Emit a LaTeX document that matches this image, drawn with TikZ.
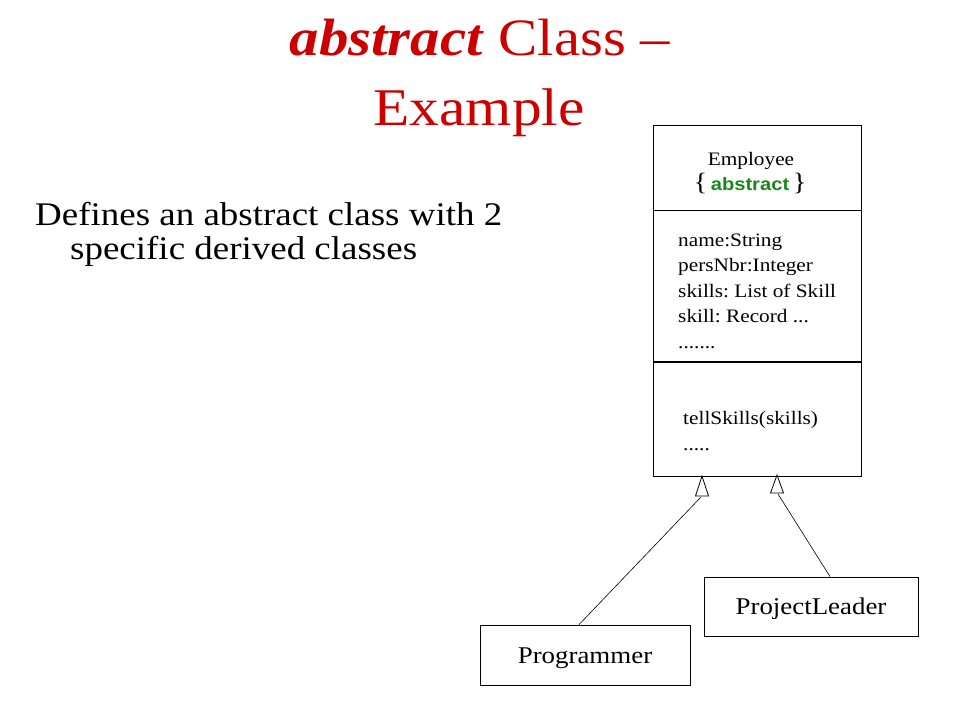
\documentclass[tikz,border=0pt]{standalone}
\usepackage{fontspec}
\setmainfont{Liberation Serif}
\newfontfamily\arialfont{Liberation Sans}
\usetikzlibrary{positioning}
\definecolor{titlered}{RGB}{204,0,0}
\definecolor{stereogreen}{RGB}{24,136,24}
\frenchspacing

\begin{document}
\begin{tikzpicture}[x=1pt,y=-1pt]
                \useasboundingbox (0,0) rectangle (960,720);
                % title and text
                \begin{scope}[every node/.style={inner sep=0pt,anchor=base,xscale=1.12}]
                    \node[text=titlered,font=\fontsize{52.5}{60}\selectfont] (T1) at (480,55) {\textbf{\textit{abstract}} Class --};
                    \node[text=titlered,font=\fontsize{53}{60}\selectfont] (T2) at (479,125) {Example};
                    \node[anchor=base west,font=\fontsize{33}{38}\selectfont] (L1) at (35,225) {Defines an abstract class with 2};
                    \node[anchor=base west,font=\fontsize{33}{38}\selectfont] (L2) at (70,259) {specific derived classes};
                \end{scope}
                % class boxes
                \begin{scope}[every node/.style={rectangle,draw=black,line width=0.8pt,inner sep=0pt,minimum width=208pt}]
                    \node[minimum height=85pt] (EH) at (757,167.5) {};
                    \node[minimum height=151pt,below=0pt of EH] (EA) {};
                    \node[minimum height=114pt,below=0pt of EA] (EO) {};
                    \node[minimum width=210pt,minimum height=60pt] (P) at (585,655) {};
                    \node[minimum width=214pt,minimum height=59pt] (PL) at (811,606.5) {};
                \end{scope}
                % texts in boxes
                \begin{scope}[every node/.style={inner sep=0pt,anchor=base west,xscale=1.12,font=\fontsize{19}{25.5}\selectfont}]
                    \node[anchor=base] (EN) at (751,165) {Employee};
                    \node[anchor=base] (ES) at (750,190) {{\fontsize{25}{25}\selectfont\{}\,{\arialfont\bfseries\fontsize{18}{20}\selectfont\color{stereogreen}abstract}\,{\fontsize{25}{25}\selectfont\}}};
                    \node (A1) at (678,246) {name:String};
                    \node (A2) at (678,271.5) {persNbr:Integer};
                    \node (A3) at (678,297) {skills: List of Skill};
                    \node (A4) at (678,322.5) {skill: Record ...};
                    \node (A5) at (678,348) {.......};
                    \node (O1) at (683,424) {tellSkills(skills)};
                    \node (O2) at (683,450) {.....};
                    \node[anchor=base,font=\fontsize{24}{28}\selectfont] (PN) at (585,663) {Programmer};
                    \node[anchor=base,font=\fontsize{24}{28}\selectfont] (PLN) at (811,614) {ProjectLeader};
                \end{scope}
                % generalisation arrows
                \coordinate (G1) at (702,476);
                \coordinate (G1b) at (701,497);
                \coordinate (G2) at (777,475);
                \coordinate (G2b) at (778,494);
                \begin{scope}[line width=0.8pt]
                    \draw (G1) -- ++(-6.5,20) -- ++(13,0) -- cycle;
                    \draw (G2) -- ++(-6.5,18) -- ++(13,0) -- cycle;
                    \draw[line width=0.6pt] (G1b) -- ([xshift=-6pt]P.north);
                    \draw[line width=0.6pt] (G2b) -- ([xshift=19pt]PL.north);
                \end{scope}
            \end{tikzpicture}
\end{document}
